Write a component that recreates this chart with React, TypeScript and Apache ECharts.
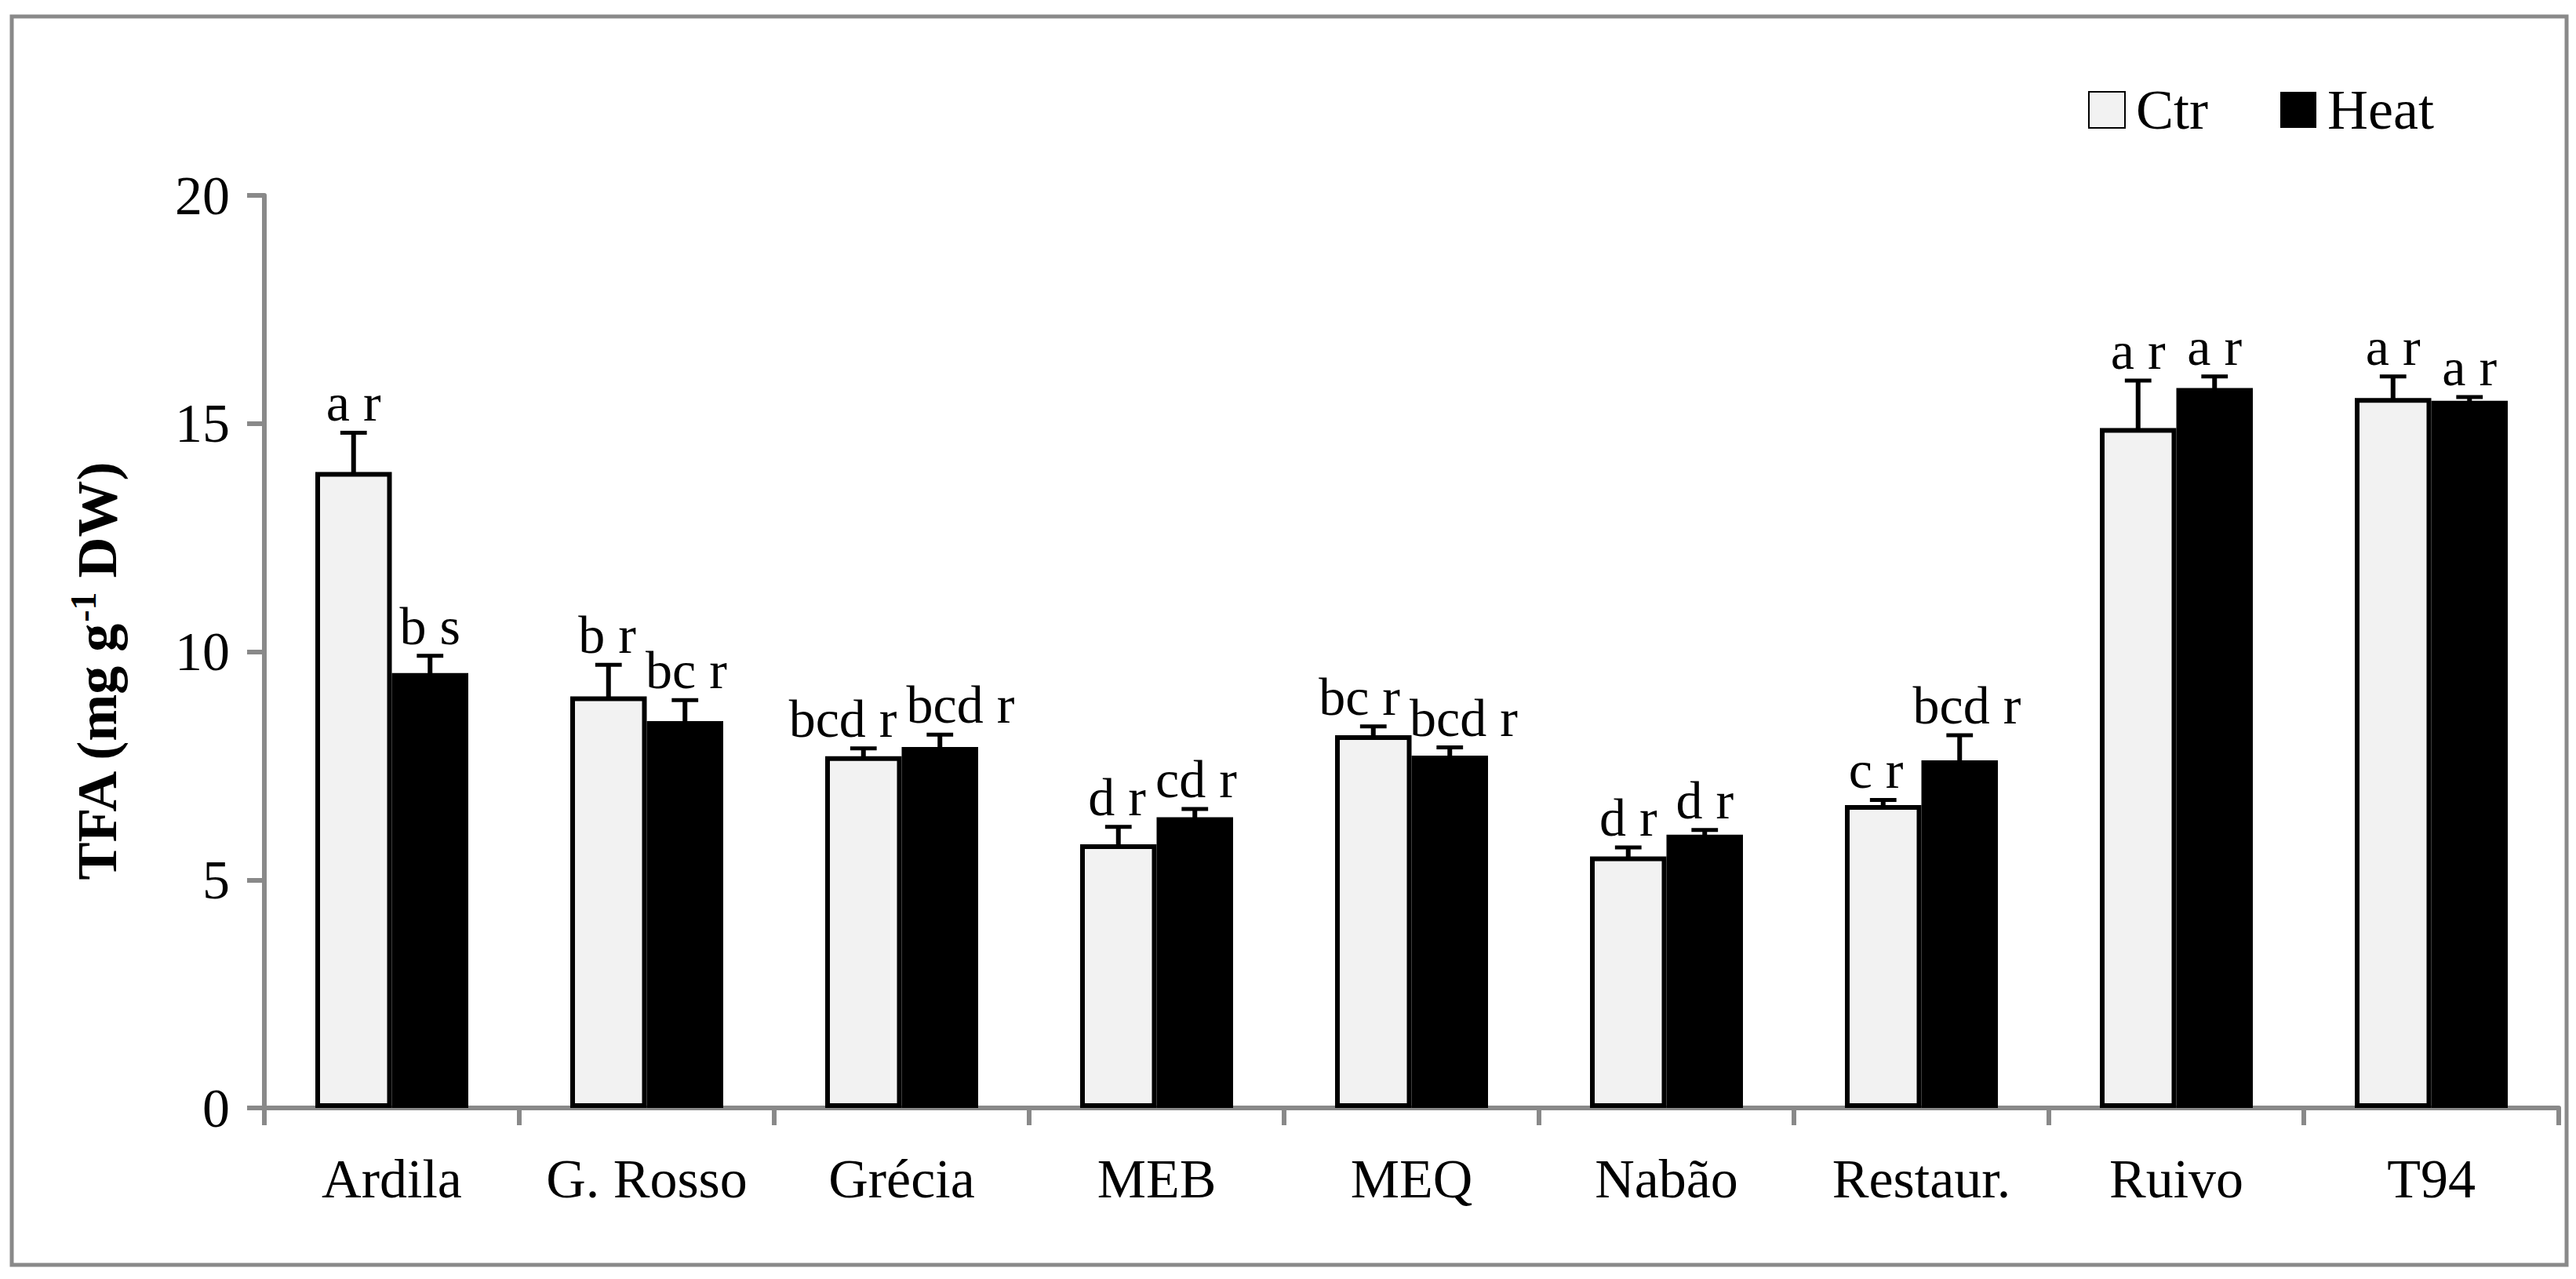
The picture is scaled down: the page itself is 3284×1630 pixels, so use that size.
import React, { useEffect, useRef } from "react";
import * as echarts from "echarts";

const categories = ["Ardila", "G. Rosso", "Grécia", "MEB", "MEQ", "Nabão", "Restaur.", "Ruivo", "T94"];
const ctrValues = [13.94, 9.02, 7.71, 5.78, 8.17, 5.51, 6.64, 14.9, 15.56];
const ctrErrors = [0.86, 0.69, 0.17, 0.38, 0.19, 0.2, 0.11, 1.04, 0.47];
const heatValues = [9.53, 8.48, 7.91, 6.37, 7.72, 5.99, 7.62, 15.78, 15.5];
const heatErrors = [0.38, 0.46, 0.27, 0.18, 0.18, 0.1, 0.55, 0.25, 0.08];
const ctrLetters = ["a r", "b r", "bcd r", "d r", "bc r", "d r", "c r", "a r", "a r"];
const heatLetters = ["b s", "bc r", "bcd r", "cd r", "bcd r", "d r", "bcd r", "a r", "a r"];
const seriesNames = ["Ctr", "Heat"];
const yMin = 0;
const yMax = 20;
const yInterval = 5;

const FONT = '"Liberation Serif", "Times New Roman", serif';
const GRAY = "#898989";
const LABEL_SIZE = 68;
const AXIS_FONT = 70;

let measureCtx: CanvasRenderingContext2D | null = null;
function textWidth(t: string): number {
  if (!measureCtx) {
    const c = document.createElement("canvas");
    measureCtx = c.getContext("2d");
  }
  if (!measureCtx) return t.length * LABEL_SIZE * 0.45;
  measureCtx.font = `${LABEL_SIZE}px ${FONT}`;
  return measureCtx.measureText(t).width;
}

// horizontal shift of the two letter labels in a category so they do not overlap
function labelShift(i: number, cw: number): number {
  const w1 = textWidth(ctrLetters[i]);
  const w2 = textWidth(heatLetters[i]);
  const dist = cw * 0.3;
  const gap = 12;
  const overlap = w1 / 2 + w2 / 2 + gap - dist;
  return overlap > 0 ? overlap / 2 : 0;
}

function makeErrorSeries(side: number, values: number[], errors: number[], letters: string[], name: string) {
  return {
    type: "custom",
    name,
    z: 5,
    silent: true,
    data: values.map((v, i) => [i, v, errors[i]]),
    encode: { x: 0, y: 1 },
    renderItem: (params: any, api: any) => {
      const i = api.value(0);
      const v = api.value(1);
      const e = api.value(2);
      const cw = api.size([1, 0])[0];
      const base = api.coord([i, v]);
      const top = api.coord([i, v + e]);
      const x = base[0] + side * cw * 0.15;
      const capHalf = cw * 0.052;
      const shift = labelShift(params.dataIndex, cw) * side;
      return {
        type: "group",
        children: [
          {
            type: "line",
            shape: { x1: x, y1: base[1] + 4, x2: x, y2: top[1] },
            style: { stroke: "#000", lineWidth: 6 },
          },
          {
            type: "line",
            shape: { x1: x - capHalf, y1: top[1], x2: x + capHalf, y2: top[1] },
            style: { stroke: "#000", lineWidth: 5 },
          },
          {
            type: "text",
            x: x + shift,
            y: top[1] - 4,
            style: {
              text: letters[params.dataIndex],
              fill: "#000",
              fontSize: LABEL_SIZE,
              fontFamily: FONT,
              align: "center",
              verticalAlign: "bottom",
            },
          },
        ],
      };
    },
  };
}

export default function App() {
  const ref = useRef<HTMLDivElement>(null);
  useEffect(() => {
    if (!ref.current) return;
    const chart = echarts.init(ref.current, null, { renderer: "svg" });
    const option: any = {
      animation: false,
      backgroundColor: "#fff",
      grid: { left: 337, right: 22, top: 249, bottom: 218, containLabel: false },
      legend: {
        data: seriesNames,
        left: 2657,
        top: 99,
        icon: "rect",
        itemWidth: 46,
        itemHeight: 46,
        itemGap: 92,
        selectedMode: false,
        textStyle: { fontSize: 72, lineHeight: 46, fontFamily: FONT, color: "#000", padding: [0, 0, 0, 9] },
      },
      xAxis: {
        type: "category",
        data: categories,
        boundaryGap: true,
        axisLine: { show: true, lineStyle: { color: GRAY, width: 6 } },
        axisTick: { show: true, interval: 0, length: 22, lineStyle: { color: GRAY, width: 6 } },
        axisLabel: { interval: 0, hideOverlap: false, fontSize: AXIS_FONT, fontFamily: FONT, color: "#000", margin: 55 },
        splitLine: { show: false },
      },
      yAxis: {
        type: "value",
        min: yMin,
        max: yMax,
        interval: yInterval,
        axisLine: { show: true, lineStyle: { color: GRAY, width: 6 } },
        axisTick: { show: true, length: 22, lineStyle: { color: GRAY, width: 6 } },
        axisLabel: { fontSize: AXIS_FONT, fontFamily: FONT, color: "#000", margin: 44 },
        splitLine: { show: false },
      },
      series: [
        {
          type: "bar",
          name: seriesNames[0],
          data: ctrValues,
          barGap: "0%",
          barCategoryGap: "40%",
          itemStyle: { color: "#f2f2f2", borderColor: "#000", borderWidth: 6 },
        },
        {
          type: "bar",
          name: seriesNames[1],
          data: heatValues,
          barGap: "0%",
          barCategoryGap: "40%",
          itemStyle: { color: "#000" },
        },
        makeErrorSeries(-1, ctrValues, ctrErrors, ctrLetters, "Ctr error"),
        makeErrorSeries(1, heatValues, heatErrors, heatLetters, "Heat error"),
      ],
      graphic: [
        {
          type: "rect",
          shape: { x: 15, y: 21, width: 3257, height: 1591 },
          style: { fill: "none", stroke: GRAY, lineWidth: 5 },
          silent: true,
        },
        {
          type: "text",
          x: 124,
          y: 856,
          rotation: Math.PI / 2,
          style: {
            text: "{b|TFA (mg g}{sup|-1}{b| DW)}",
            align: "center",
            verticalAlign: "middle",
            rich: {
              b: { fontSize: 72, fontWeight: "bold", fontFamily: FONT, fill: "#000", lineHeight: 82 },
              sup: { fontSize: 46, fontWeight: "bold", fontFamily: FONT, fill: "#000", lineHeight: 46, verticalAlign: "top" },
            },
          },
        },
      ],
    };
    chart.setOption(option);
    return () => chart.dispose();
  }, []);
  return (
    <div
      ref={ref}
      style={{ position: "absolute", left: 0, top: 0, width: 3284, height: 1630, background: "#fff" }}
    />
  );
}
